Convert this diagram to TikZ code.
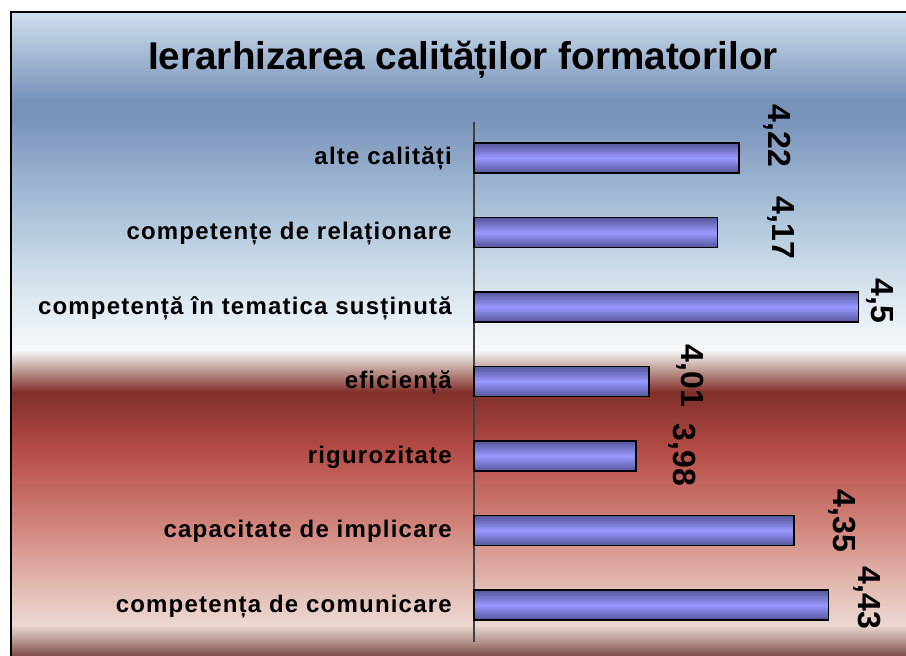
\documentclass[tikz,border=0pt]{standalone}
\usepackage{fontspec}
\setmainfont{Liberation Sans}
\newfontfamily\lblfont{Liberation Sans}[LetterSpace=5]
\newfontfamily\numfont{Liberation Sans}[LetterSpace=1]
\definecolor{bgA}{HTML}{CFDFED}
\definecolor{bgB}{HTML}{7892BA}
\definecolor{bgC}{HTML}{A9C1D8}
\definecolor{bgD}{HTML}{D9E5EE}
\definecolor{bgE}{HTML}{F6F9FB}
\definecolor{bgF}{HTML}{B89088}
\definecolor{bgG}{HTML}{812E2A}
\definecolor{bgH}{HTML}{B44C46}
\definecolor{bgI}{HTML}{CF8077}
\definecolor{bgJ}{HTML}{E2B9B1}
\definecolor{bgK}{HTML}{ECD8D2}
\definecolor{bgL}{HTML}{B28F89}
\definecolor{bgM}{HTML}{7D4E48}
\definecolor{barfill}{HTML}{9999FF}
\definecolor{bardark}{HTML}{55559A}
\begin{document}
\begin{tikzpicture}[x=0.75pt,y=-0.75pt,
    bar/.style={draw=black,line width=1.2pt,top color=bardark,bottom color=bardark,middle color=barfill},
    cat/.style={anchor=base east,inner sep=0pt,font=\lblfont\fontsize{18}{21}\bfseries\selectfont},
    num/.style={rotate=-90,inner sep=0pt,font=\numfont\fontsize{24}{28}\bfseries\selectfont}]
    \useasboundingbox (0,0) rectangle (906,656);
    \fill[white] (0,0) rectangle (906,656);
    \foreach \ya/\ca/\yb/\cb in {12/bgA/100/bgB, 100/bgB/115/bgB, 115/bgB/210/bgC, 210/bgC/290/bgD,
        290/bgD/350/bgE, 350/bgE/372/bgF, 372/bgF/392/bgG, 392/bgG/450/bgH, 450/bgH/520/bgI,
        520/bgI/585/bgJ, 585/bgJ/625/bgK, 625/bgK/642/bgL, 642/bgL/656/bgM}
        \shade[top color=\ca,bottom color=\cb] (12,\ya) rectangle (906,\yb);
    \draw[line width=1.5pt] (11,656) -- (11,12) -- (906,12);
    \node[anchor=base,font=\fontsize{29}{34}\bfseries\selectfont] (title) at (463,70) {Ierarhizarea calităților formatorilor};
    \draw[black!75,line width=0.8pt] (474,122) -- (474,642);
    \foreach \i/\lbl/\val/\txt/\lx/\ly in {
        1/alte calități/4.22/{4,22}/777/136,
        2/competențe de relaționare/4.17/{4,17}/781/228,
        3/competență în tematica susținută/4.5/{4,5}/880/301,
        4/eficiență/4.01/{4,01}/690/376,
        5/rigurozitate/3.98/{3,98}/682/455,
        6/capacitate de implicare/4.35/{4,35}/842/521,
        7/competența de comunicare/4.43/{4,43}/867/598} {
        \pgfmathsetmacro\yc{158+74.5*(\i-1)}
        \draw[bar] (474,\yc-15) rectangle ({474+(\val-3.6)*427},\yc+15);
        \node[cat] (lab\i) at (452,\yc+7) {\lbl};
        \node[num] (val\i) at (\lx,\ly) {\txt};
    }
\end{tikzpicture}
\end{document}
